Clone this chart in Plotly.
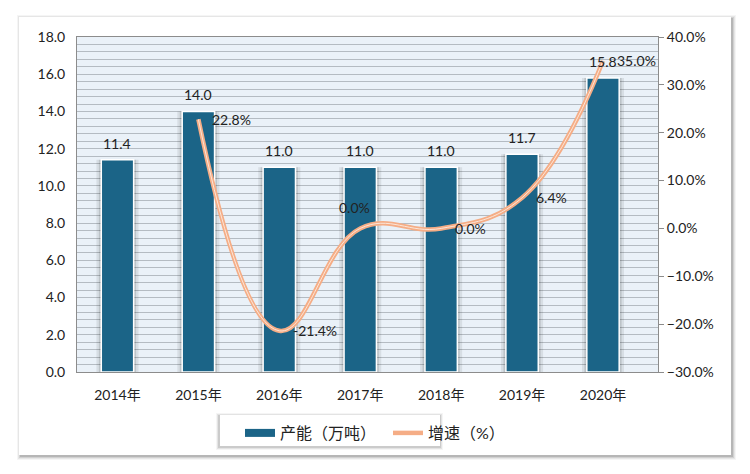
import plotly.graph_objects as go

years = ["2014年", "2015年", "2016年", "2017年", "2018年", "2019年", "2020年"]
capacity = [11.4, 14.0, 11.0, 11.0, 11.0, 11.7, 15.8]
growth_years = ["2015年", "2016年", "2017年", "2018年", "2019年", "2020年"]
growth = [22.8, -21.4, 0.0, 0.0, 6.4, 35.0]
growth_label_above = [False, False, True, False, False, False]

BAR = "#1B6487"
ORANGE = "#F5AD86"
FONT = "Lato, 'Noto Sans CJK SC', sans-serif"
TXT = "#222"

L, R, T, B = 77, 92, 37, 102
W, H = 750, 474
pw, ph = W - L - R, H - T - B


def px(x):
    return (x - L) / pw


def py(y):
    return (H - B - y) / ph


fig = go.Figure()

# bar glow shadow
fig.add_trace(go.Bar(x=years, y=capacity, width=0.52, marker=dict(color="rgba(0,0,0,0.08)", line=dict(width=0)),
                     showlegend=False, hoverinfo="skip"))
fig.add_trace(go.Bar(x=years, y=capacity, width=0.46, marker=dict(color="rgba(0,0,0,0.12)", line=dict(width=0)),
                     showlegend=False, hoverinfo="skip"))
fig.add_trace(go.Bar(x=years, y=capacity, width=0.4, name="产能（万吨）", showlegend=False,
                     marker=dict(color=BAR, line=dict(color="white", width=1.5))))
# legend entry for bars (wide rectangle swatch like the reference)
fig.add_trace(go.Scatter(x=[None], y=[None], mode="lines", name="产能（万吨）",
                         line=dict(color=BAR, width=8)))
fig.add_trace(go.Scatter(x=growth_years, y=growth, yaxis="y2", mode="lines", name="增速（%）",
                         line=dict(color=ORANGE, width=4.5, shape="spline", smoothing=1.2)))
fig.add_trace(go.Scatter(x=growth_years, y=growth, yaxis="y2", mode="lines", showlegend=False,
                         line=dict(color="#FCE6D8", width=1, shape="spline", smoothing=1.2), hoverinfo="skip"))

annotations = []
for xv, v in zip(years, capacity):
    annotations.append(dict(x=xv, y=v, xref="x", yref="y", text=f"{v:.1f}", showarrow=False,
                            xanchor="center", yanchor="bottom", yshift=6,
                            font=dict(size=14, color=TXT)))
for xv, v, above in zip(growth_years, growth, growth_label_above):
    if above:
        annotations.append(dict(x=xv, y=v, xref="x", yref="y2", text=f"{v:.1f}%", showarrow=False,
                                xanchor="center", yanchor="bottom", xshift=-6, yshift=10,
                                font=dict(size=14, color=TXT)))
    else:
        annotations.append(dict(x=xv, y=v, xref="x", yref="y2", text=f"{v:.1f}%", showarrow=False,
                                xanchor="left", yanchor="middle", xshift=12,
                                font=dict(size=14, color=TXT)))

shapes = []
# card shadow
for i, a in enumerate([0.04, 0.06, 0.09, 0.13]):
    d = 4 - i
    shapes.append(dict(type="rect", xref="paper", yref="paper", layer="below",
                       x0=px(19 - d + 2), x1=px(731 + d + 1), y0=py(455 + d + 1), y1=py(17 - d + 2),
                       line=dict(width=0), fillcolor=f"rgba(0,0,0,{a})"))
shapes.append(dict(type="rect", xref="paper", yref="paper", layer="below",
                   x0=px(19), x1=px(731), y0=py(455), y1=py(17),
                   line=dict(width=0), fillcolor="white"))
# plot background
shapes.append(dict(type="rect", xref="paper", yref="paper", layer="below",
                   x0=0, x1=1, y0=0, y1=1, line=dict(width=0), fillcolor="#EAF1F8"))
# legend box shadow
for i, a in enumerate([0.04, 0.07, 0.10]):
    d = 3 - i
    shapes.append(dict(type="rect", xref="paper", yref="paper", layer="below",
                       x0=px(220 - d - 1), x1=px(440 + d), y0=py(446 + d + 1), y1=py(415 - d + 1),
                       line=dict(width=0), fillcolor=f"rgba(0,0,0,{a})"))
shapes.append(dict(type="rect", xref="paper", yref="paper", layer="below",
                   x0=px(220), x1=px(440), y0=py(446), y1=py(415),
                   line=dict(width=0), fillcolor="white"))

fig.update_layout(
    width=W, height=H, margin=dict(l=L, r=R, t=T, b=B),
    paper_bgcolor="white", plot_bgcolor="rgba(0,0,0,0)",
    barmode="overlay", bargap=0.6,
    font=dict(family=FONT, size=14, color=TXT),
    shapes=shapes, annotations=annotations,
    xaxis=dict(type="category", categoryarray=years, showgrid=False, showline=True, linecolor="#8C8C8C",
               linewidth=1, mirror=True, ticks="", tickfont=dict(size=14, color=TXT), ticklabelstandoff=10),
    yaxis=dict(range=[0, 18], dtick=2, tickformat=".1f", showgrid=True, gridcolor="#B4BBC2", gridwidth=1,
               minor=dict(dtick=0.4, showgrid=True, gridcolor="#B4BBC2", gridwidth=1),
               showline=True, linecolor="#8C8C8C", mirror=True, zeroline=False, ticks="",
               tickfont=dict(size=14, color=TXT), ticklabelstandoff=8),
    yaxis2=dict(range=[-30, 40], dtick=10, overlaying="y", side="right", showgrid=False, zeroline=False,
                ticksuffix="%", tickformat=".1f", ticks="outside", ticklen=5, tickcolor="#8C8C8C",
                showline=True, linecolor="#8C8C8C", tickfont=dict(size=14, color=TXT)),
    legend=dict(orientation="h", x=px(240), xanchor="left", y=py(416), yanchor="top",
                bgcolor="rgba(0,0,0,0)", font=dict(size=16, color=TXT), traceorder="normal",
                itemwidth=30, entrywidth=103),
)

fig.write_html("out.html")
